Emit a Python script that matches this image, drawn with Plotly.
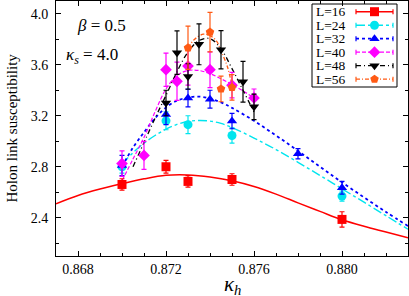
import plotly.graph_objects as go

# ---------------- data ----------------
labels = ["L=16", "L=24", "L=32", "L=40", "L=48", "L=56"]

x16 = [0.870, 0.872, 0.873, 0.875, 0.880]
y16 = [2.661, 2.800, 2.685, 2.700, 2.387]
e16 = [0.045, 0.050, 0.045, 0.045, 0.060]

x24 = [0.870, 0.872, 0.873, 0.875, 0.880]
y24 = [2.800, 3.160, 3.130, 3.045, 2.570]
e24 = [0.050, 0.070, 0.070, 0.060, 0.040]

x32 = [0.870, 0.872, 0.873, 0.874, 0.875, 0.878, 0.880]
y32 = [2.810, 3.210, 3.340, 3.330, 3.158, 2.902, 2.635]
e32 = [0.080, 0.080, 0.070, 0.070, 0.060, 0.040, 0.050]

x40 = [0.870, 0.871, 0.872, 0.8725, 0.873, 0.874, 0.875, 0.876]
y40 = [2.825, 2.889, 3.561, 3.470, 3.590, 3.561, 3.440, 3.340]
e40 = [0.100, 0.110, 0.130, 0.150, 0.150, 0.140, 0.100, 0.070]

x48 = [0.872, 0.8725, 0.873, 0.8735, 0.8745, 0.8755, 0.876]
y48 = [3.300, 3.695, 3.508, 3.760, 3.718, 3.467, 3.270]
e48 = [0.100, 0.170, 0.100, 0.160, 0.150, 0.160, 0.100]

x56 = [0.873, 0.874, 0.8745, 0.875]
y56 = [3.733, 3.856, 3.410, 3.422]
e56 = [0.170, 0.155, 0.100, 0.100]

# fitted curves
fx16 = [0.867, 0.868, 0.869, 0.870, 0.871, 0.872, 0.873, 0.874, 0.875, 0.876, 0.877, 0.878, 0.879, 0.880, 0.881, 0.882, 0.883]
fy16 = [2.510, 2.575, 2.625, 2.667, 2.705, 2.733, 2.736, 2.720, 2.690, 2.645, 2.585, 2.517, 2.450, 2.384, 2.333, 2.288, 2.243]

fx24 = [0.870, 0.8705, 0.871, 0.8715, 0.872, 0.8725, 0.873, 0.8735, 0.874, 0.8745, 0.875, 0.876, 0.877, 0.878, 0.879, 0.880, 0.881, 0.882, 0.883]
fy24 = [2.820, 2.910, 2.985, 3.045, 3.095, 3.132, 3.155, 3.163, 3.158, 3.140, 3.108, 3.025, 2.935, 2.835, 2.732, 2.627, 2.522, 2.416, 2.310]

fx32 = [0.870, 0.8705, 0.871, 0.8715, 0.872, 0.8725, 0.873, 0.8735, 0.874, 0.8745, 0.875, 0.876, 0.877, 0.878, 0.879, 0.880, 0.881, 0.882, 0.883]
fy32 = [2.800, 2.950, 3.070, 3.180, 3.265, 3.318, 3.343, 3.350, 3.335, 3.305, 3.262, 3.160, 3.045, 2.925, 2.800, 2.678, 2.560, 2.445, 2.335]

fx40 = [0.870, 0.8705, 0.871, 0.8715, 0.872, 0.8725, 0.873, 0.8735, 0.874, 0.8745, 0.875, 0.8755, 0.876]
fy40 = [2.690, 2.860, 3.030, 3.230, 3.410, 3.515, 3.555, 3.555, 3.530, 3.490, 3.445, 3.395, 3.340]

fx48 = [0.8705, 0.871, 0.8715, 0.872, 0.8725, 0.873, 0.8735, 0.874, 0.8745, 0.875, 0.8755, 0.876]
fy48 = [2.800, 2.990, 3.180, 3.360, 3.545, 3.700, 3.790, 3.805, 3.725, 3.570, 3.400, 3.230]

fx56 = [0.873, 0.8733, 0.8737, 0.874, 0.8743, 0.8745, 0.8748, 0.875]
fy56 = [3.733, 3.800, 3.840, 3.828, 3.785, 3.710, 3.580, 3.430]

# ---------------- styles ----------------
colors = ["#ff0000", "#00e5ee", "#0000ff", "#ff00ff", "#000000", "#ff5a14"]
symbols = ["square", "circle", "triangle-up", "diamond", "triangle-down", "pentagon"]
dashes = ["solid", "dashdot", "dot", "4px,2px", "5px,3px,1px,3px", "4px,2px,1px,2px"]
widths = [1.5, 1.4, 1.8, 1.2, 1.3, 1.3]

pts = [(x16, y16, e16), (x24, y24, e24), (x32, y32, e32),
       (x40, y40, e40), (x48, y48, e48), (x56, y56, e56)]
fits = [(fx16, fy16), (fx24, fy24), (fx32, fy32),
        (fx40, fy40), (fx48, fy48), (fx56, fy56)]

SERIF = "Liberation Serif"
W, H = 409, 296
ML, MR, MT, MB = 56, 1, 1, 40
PW, PH = W - ML - MR, H - MT - MB


def px(xp):
    return (xp - ML) / PW


def py(yp):
    return (H - MB - yp) / PH


fig = go.Figure()

for i in range(6):
    fx, fy = fits[i]
    fig.add_trace(go.Scatter(
        x=fx, y=fy, mode="lines", line_shape="spline",
        line=dict(color=colors[i], width=widths[i], dash=dashes[i]),
        showlegend=False, hoverinfo="skip"))

for i in range(6):
    x, y, e = pts[i]
    fig.add_trace(go.Scatter(
        x=x, y=y, mode="markers", name=labels[i],
        marker=dict(symbol=symbols[i], size=9, color=colors[i],
                    line=dict(width=0)),
        error_y=dict(type="data", array=e, visible=True,
                     color=colors[i], thickness=1.2, width=2.5),
        showlegend=False))

# ---------------- hand-made legend (box at top right) ----------------
LX0, LX1, LY0, LY1 = 312, 397, 4, 87
ROW0, ROWH = 11.7, 13.5
SX0, SX1, SXM = 356, 393, 374.5
shapes = [dict(type="rect", xref="paper", yref="paper",
               x0=px(LX0), x1=px(LX1), y0=py(LY1), y1=py(LY0),
               line=dict(color="black", width=1), fillcolor="white",
               layer="below")]
for i in range(6):
    yy = ROW0 + i * ROWH
    shapes.append(dict(type="line", xref="paper", yref="paper",
                       x0=px(SX0), x1=px(SX1), y0=py(yy), y1=py(yy),
                       line=dict(color=colors[i], width=widths[i], dash=dashes[i])))
    for cx in (SX0, SX1):
        shapes.append(dict(type="line", xref="paper", yref="paper",
                           x0=px(cx), x1=px(cx), y0=py(yy - 2.5), y1=py(yy + 2.5),
                           line=dict(color=colors[i], width=1.2)))
    fig.add_annotation(x=px(315), y=py(yy), xref="paper", yref="paper",
                       text=labels[i], showarrow=False, xanchor="left",
                       yanchor="middle", borderpad=0,
                       font=dict(family=SERIF, size=13.5, color="black"))
    fig.add_trace(go.Scatter(
        x=[px(SXM)], y=[py(yy)], xaxis="x2", yaxis="y2", mode="markers",
        marker=dict(symbol=symbols[i], size=9, color=colors[i], line=dict(width=0)),
        showlegend=False, hoverinfo="skip"))

axis_common = dict(
    showline=True, linecolor="black", linewidth=1, mirror="ticks",
    ticks="inside", tickcolor="black", ticklen=5, tickwidth=1,
    showgrid=False, zeroline=False, automargin=False,
    tickfont=dict(family=SERIF, size=14, color="black"),
)

fig.update_xaxes(
    range=[0.867, 0.883], tickmode="array",
    tickvals=[0.868, 0.872, 0.876, 0.880],
    ticktext=["0.868", "0.872", "0.876", "0.880"],
    minor=dict(dtick=0.001, tick0=0.867, ticks="inside", ticklen=3,
               tickcolor="black", showgrid=False),
    **axis_common)

fig.update_yaxes(
    range=[2.1, 4.1], tickmode="array",
    tickvals=[2.4, 2.8, 3.2, 3.6, 4.0],
    ticktext=["2.4", "2.8", "3.2", "3.6", "4.0"],
    minor=dict(dtick=0.2, tick0=2.2, ticks="inside", ticklen=3,
               tickcolor="black", showgrid=False),
    ticklabelstandoff=4,
    **axis_common)

fig.update_layout(
    xaxis2=dict(overlaying="x", range=[0, 1], visible=False, automargin=False),
    yaxis2=dict(overlaying="y", range=[0, 1], visible=False, automargin=False),
)

# axis titles
fig.add_annotation(x=px(232), y=py(284.5), xref="paper", yref="paper",
                   text="<i>κ<sub>h</sub></i>", showarrow=False,
                   xanchor="center", yanchor="middle", borderpad=0,
                   font=dict(family=SERIF, size=21, color="black"))
fig.add_annotation(x=px(11), y=0.5, xref="paper", yref="paper",
                   text="Holon link susceptibility", showarrow=False,
                   textangle=-90, xanchor="center", yanchor="middle",
                   font=dict(family=SERIF, size=15, color="black"))

# in-plot labels
fig.add_annotation(x=px(75), y=py(25), xref="paper", yref="paper",
                   text="<i>β</i> = 0.5", showarrow=False,
                   xanchor="left", yanchor="middle",
                   font=dict(family=SERIF, size=17, color="black"))
fig.add_annotation(x=px(64), y=py(56), xref="paper", yref="paper",
                   text="<i>κ<sub>s</sub></i> = 4.0", showarrow=False,
                   xanchor="left", yanchor="middle",
                   font=dict(family=SERIF, size=17, color="black"))

fig.update_layout(
    width=W, height=H,
    margin=dict(l=ML, r=MR, t=MT, b=MB, autoexpand=False),
    paper_bgcolor="white", plot_bgcolor="white",
    showlegend=False,
    shapes=shapes,
)

fig.write_html(
    "out.html",
    config={"displayModeBar": False},
    post_script="document.body.style.margin='0px';document.body.style.padding='0px';document.body.style.overflow='hidden';",
)
